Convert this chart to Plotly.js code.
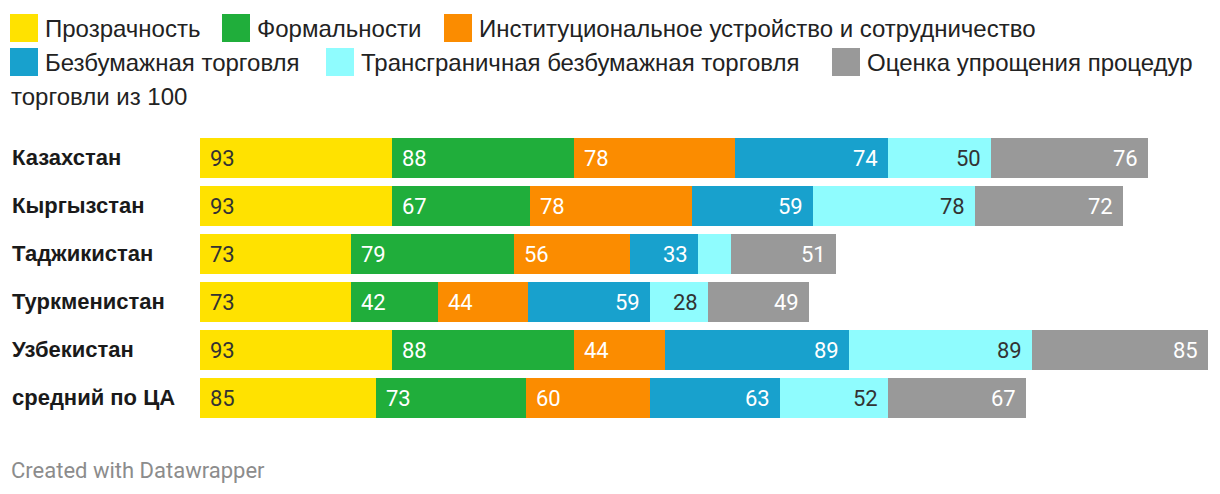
<!DOCTYPE html>
<html>
<head>
<meta charset="utf-8">
<script src="https://cdn.plot.ly/plotly-3.0.1.min.js"></script>
<style>
  html, body { margin: 0; padding: 0; background: #fff; }
  #chart { width: 1220px; height: 494px; }
</style>
</head>
<body>
<div id="chart"></div>
<script>
// ---- data ----
const categories = ['Казахстан', 'Кыргызстан', 'Таджикистан', 'Туркменистан', 'Узбекистан', 'средний по ЦА'];
const seriesNames = ['Прозрачность', 'Формальности', 'Институциональное устройство и сотрудничество',
  'Безбумажная торговля', 'Трансграничная безбумажная торговля', 'Оценка упрощения процедур'];
const transparency = [93, 93, 73, 73, 93, 85];
const formalities = [88, 67, 79, 42, 88, 73];
const institutional = [78, 78, 56, 44, 44, 60];
const paperless = [74, 59, 33, 59, 89, 63];
const crossBorder = [50, 78, 16, 28, 89, 52];
const overall = [76, 72, 51, 49, 85, 67];
const legendExtra = 'торговли из 100';
const footerText = 'Created with Datawrapper';

// ---- styles ----
const colors = ['#ffe200', '#20ae3b', '#fb8c00', '#18a1cd', '#8ffcfe', '#999999'];
const labelColors = ['#333333', '#ffffff', '#ffffff', '#ffffff', '#333333', '#ffffff'];
const alignLeft = [true, true, true, false, false, false];
const series = [transparency, formalities, institutional, paperless, crossBorder, overall];

const W = 1220, H = 494;
const M = { l: 200, r: 12, t: 134, b: 72 };
const plotW = W - M.l - M.r, plotH = H - M.t - M.b;
const px2x = px => (px - M.l) / plotW;
const px2y = py => (H - M.b - py) / plotH;

const traces = series.map((vals, i) => ({
  type: 'bar',
  orientation: 'h',
  name: seriesNames[i],
  y: categories,
  x: vals,
  marker: { color: colors[i], line: { width: 0 } },
  hoverinfo: 'skip'
}));

const annotations = [];
// value labels
categories.forEach((cat, r) => {
  let cum = 0;
  series.forEach((vals, i) => {
    const v = vals[r];
    const start = cum, end = cum + v;
    cum = end;
    if (v < 20) return; // too narrow for a label
    annotations.push({
      xref: 'x', yref: 'y',
      x: alignLeft[i] ? start : end,
      y: cat,
      xanchor: alignLeft[i] ? 'left' : 'right',
      xshift: alignLeft[i] ? 8 : -8,
      yanchor: 'middle',
      text: String(v),
      showarrow: false,
      font: { family: 'Roboto, sans-serif', size: 22, color: labelColors[i] }
    });
  });
  // category label
  annotations.push({
    xref: 'paper', yref: 'y',
    x: px2x(10), y: cat,
    xanchor: 'left', yanchor: 'middle',
    yshift: 1,
    text: '<b>' + cat + '</b>',
    showarrow: false,
    font: { family: 'Liberation Sans, Arial, sans-serif', size: 22, color: '#1a1a1a' }
  });
});

// custom legend
const legendPos = [
  { sx: 10, row: 0 }, { sx: 222, row: 0 }, { sx: 444, row: 0 },
  { sx: 10, row: 1 }, { sx: 326, row: 1 }, { sx: 832, row: 1 }
];
const rowY = [28, 62];
const shapes = [];
legendPos.forEach((p, i) => {
  const cy = rowY[p.row];
  shapes.push({
    type: 'rect', xref: 'paper', yref: 'paper',
    x0: px2x(p.sx), x1: px2x(p.sx + 28),
    y0: px2y(cy + 14), y1: px2y(cy - 14),
    fillcolor: colors[i], line: { width: 0 }
  });
  annotations.push({
    xref: 'paper', yref: 'paper',
    x: px2x(p.sx + 33), y: px2y(cy),
    xanchor: 'left', yanchor: 'middle',
    text: seriesNames[i], showarrow: false,
    font: { family: 'Liberation Sans, Arial, sans-serif', size: 24, color: '#222222' }
  });
});
annotations.push({
  xref: 'paper', yref: 'paper',
  x: px2x(9), y: px2y(96),
  xanchor: 'left', yanchor: 'middle',
  text: legendExtra, showarrow: false,
  font: { family: 'Liberation Sans, Arial, sans-serif', size: 24, color: '#222222' }
});
annotations.push({
  xref: 'paper', yref: 'paper',
  x: px2x(9), y: px2y(470),
  xanchor: 'left', yanchor: 'middle',
  text: footerText, showarrow: false,
  font: { family: 'Roboto, sans-serif', size: 22, color: '#8c8c8c' }
});

const layout = {
  width: W, height: H,
  margin: M,
  barmode: 'stack',
  bargap: 8 / 48,
  showlegend: false,
  paper_bgcolor: '#ffffff',
  plot_bgcolor: '#ffffff',
  xaxis: { range: [0, 488], visible: false, fixedrange: true },
  yaxis: { autorange: 'reversed', showticklabels: false, showgrid: false, zeroline: false, showline: false, ticks: '', fixedrange: true },
  annotations: annotations,
  shapes: shapes
};

Plotly.newPlot('chart', traces, layout, { displayModeBar: false, staticPlot: true });
</script>
</body>
</html>
